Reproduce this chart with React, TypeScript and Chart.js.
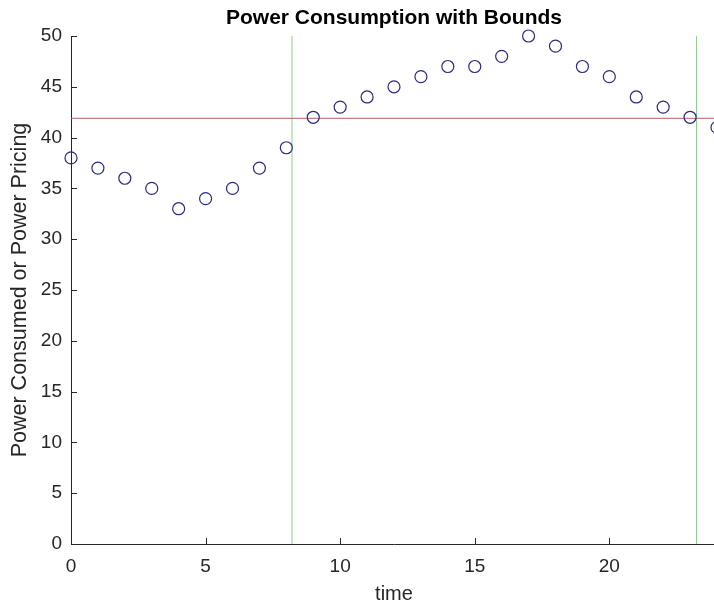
import React, { useEffect, useRef } from "react";
import { Chart, registerables } from "chart.js";

Chart.register(...registerables);

const times: number[] = [0, 1, 2, 3, 4, 5, 6, 7, 8, 9, 10, 11, 12, 13, 14, 15, 16, 17, 18, 19, 20, 21, 22, 23, 24];
const power: number[] = [38, 37, 36, 35, 33, 34, 35, 37, 39, 42, 43, 44, 45, 46, 47, 47, 48, 50, 49, 47, 46, 44, 43, 42, 41];
const priceLevel = 41.9;
const lowerBoundTime = 8.21;
const upperBoundTime = 23.24;
const xRange: [number, number] = [0, 24];
const yRange: [number, number] = [0, 50];
const tickStep = 5;

const FONT = "'Liberation Sans', Arial, Helvetica, sans-serif";
const AXIS = "#262626";

const inwardTicks = {
  id: "inwardTicks",
  afterDatasetsDraw(chart: any) {
    const { ctx, chartArea, scales } = chart;
    const len = 6;
    ctx.save();
    ctx.strokeStyle = AXIS;
    ctx.lineWidth = 1;
    ctx.beginPath();
    for (const t of scales.x.ticks) {
      const px = Math.round(scales.x.getPixelForValue(t.value)) + 0.5;
      ctx.moveTo(px, chartArea.bottom);
      ctx.lineTo(px, chartArea.bottom - len);
    }
    for (const t of scales.y.ticks) {
      const py = Math.round(scales.y.getPixelForValue(t.value)) + 0.5;
      ctx.moveTo(chartArea.left, py);
      ctx.lineTo(chartArea.left + len, py);
    }
    ctx.stroke();
    ctx.restore();
  },
};

export default function App() {
  const ref = useRef<HTMLCanvasElement | null>(null);

  useEffect(() => {
    if (!ref.current) return;
    const chart = new Chart(ref.current, {
      type: "scatter",
      data: {
        datasets: [
          {
            label: "Power",
            data: times.map((t, i) => ({ x: t, y: power[i] })),
            showLine: false,
            clip: false,
            pointStyle: "circle",
            pointRadius: 6,
            pointBorderWidth: 1.2,
            pointBorderColor: "#2a2a80",
            pointBackgroundColor: "rgba(0,0,0,0)",
            order: 1,
          },
          {
            label: "Price",
            data: [
              { x: xRange[0], y: priceLevel },
              { x: xRange[1], y: priceLevel },
            ],
            showLine: true,
            borderColor: "#b0606a",
            borderWidth: 1,
            pointRadius: 0,
            order: 2,
          },
          {
            label: "Lower",
            data: [
              { x: lowerBoundTime, y: yRange[0] },
              { x: lowerBoundTime, y: yRange[1] },
            ],
            showLine: true,
            borderColor: "#8ccf8c",
            borderWidth: 1,
            pointRadius: 0,
            order: 3,
          },
          {
            label: "Upper",
            data: [
              { x: upperBoundTime, y: yRange[0] },
              { x: upperBoundTime, y: yRange[1] },
            ],
            showLine: true,
            borderColor: "#8ccf8c",
            borderWidth: 1,
            pointRadius: 0,
            order: 3,
          },
        ],
      },
      options: {
        animation: false,
        responsive: false,
        devicePixelRatio: 1,
        layout: { padding: { left: 0, right: 23, top: 0, bottom: 0 } },
        plugins: {
          legend: { display: false },
          tooltip: { enabled: false },
          title: {
            display: true,
            text: "Power Consumption with Bounds",
            fullSize: false,
            color: "#000000",
            font: { family: FONT, size: 21, weight: "bold", lineHeight: 1.2 },
            padding: { top: 6, bottom: 4.8 },
          },
        },
        scales: {
          x: {
            type: "linear",
            min: xRange[0],
            max: xRange[1],
            afterFit: (s: any) => {
              s.height = 62;
            },
            grid: { display: false, drawTicks: false },
            border: { display: true, color: AXIS, width: 1 },
            ticks: {
              stepSize: tickStep,
              includeBounds: false,
              color: AXIS,
              padding: 11,
              maxRotation: 0,
              font: { family: FONT, size: 19 },
            },
            title: {
              display: true,
              text: "time",
              color: AXIS,
              font: { family: FONT, size: 20, lineHeight: 1.2 },
              padding: { top: 0, bottom: 0 },
            },
          },
          y: {
            type: "linear",
            min: yRange[0],
            max: yRange[1],
            afterFit: (s: any) => {
              s.width = 71;
            },
            grid: { display: false, drawTicks: false },
            border: { display: true, color: AXIS, width: 1 },
            ticks: {
              stepSize: tickStep,
              color: AXIS,
              padding: 9,
              font: { family: FONT, size: 19 },
            },
            title: {
              display: true,
              text: "Power Consumed or Power Pricing",
              color: AXIS,
              font: { family: FONT, size: 21.5, lineHeight: 1.2 },
              padding: { top: 7, bottom: 0 },
            },
          },
        },
      },
      plugins: [inwardTicks],
    });
    return () => chart.destroy();
  }, []);

  return (
    <div
      style={{
        position: "fixed",
        left: 0,
        top: 0,
        width: 714,
        height: 606,
        overflow: "hidden",
        background: "#ffffff",
      }}
    >
      <canvas ref={ref} width={740} height={606} style={{ width: 740, height: 606, display: "block" }} />
    </div>
  );
}
